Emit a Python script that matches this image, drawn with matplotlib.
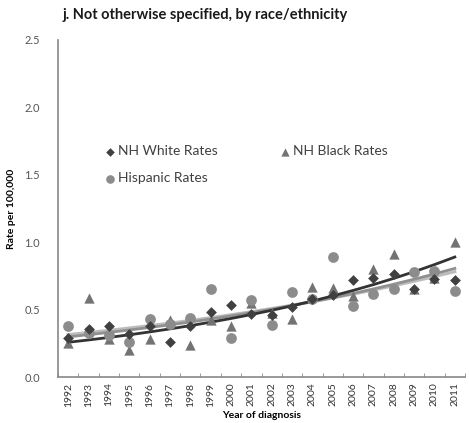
import numpy as np
import matplotlib
matplotlib.use("Agg")
import matplotlib.pyplot as plt

years = list(range(1992, 2012))
white = [0.29, 0.356, 0.375, 0.32, 0.38, 0.256, 0.38, 0.48, 0.537, 0.468,
         0.46, 0.517, 0.58, 0.607, 0.716, 0.736, 0.766, 0.65, 0.73, 0.716]
black = [0.25, 0.587, 0.28, 0.20, 0.28, 0.425, 0.24, 0.425, 0.38, 0.55,
         0.475, 0.433, 0.667, 0.66, 0.604, 0.80, 0.915, 0.65, 0.736, 0.998]
hisp = [0.375, 0.326, 0.31, 0.26, 0.43, 0.395, 0.438, 0.65, 0.29, 0.57,
        0.383, 0.63, 0.58, 0.89, 0.525, 0.617, 0.65, 0.778, 0.79, 0.637]

plt.rcParams['font.family'] = ['Lato', 'DejaVu Sans']

fig = plt.figure(figsize=(4.69, 4.23), dpi=100)
ax = fig.add_axes([58/469, 1-377/423, (465-58)/469, (377-40)/423])

x = np.arange(len(years))

def expfit(vals):
    b, a = np.polyfit(x, np.log(vals), 1)
    return np.exp(a + b * x)

c_white, c_black, c_hisp = '#404040', '#737373', '#8c8c8c'
ax.plot(x, expfit(hisp), color='#bcbcbc', lw=2.2, zorder=2)
ax.plot(x, expfit(white), color='#909090', lw=2.0, zorder=2)
ax.plot(x, expfit(black), color='#333333', lw=2.0, zorder=3)

h_w = ax.scatter(x, white, marker='D', s=30, color=c_white, zorder=5, label='NH White Rates', linewidths=0)
h_b = ax.scatter(x, black, marker='^', s=55, color=c_black, zorder=4, label='NH Black Rates', linewidths=0)
h_h = ax.scatter(x, hisp, marker='o', s=60, color=c_hisp, zorder=4, label='Hispanic Rates', linewidths=0)

ax.set_xlim(-0.5, len(years) - 0.5)
ax.set_ylim(0, 2.5)
ax.set_yticks(np.arange(0, 2.51, 0.5))
ax.set_yticklabels([f'{v:.1f}' for v in np.arange(0, 2.51, 0.5)], fontsize=8, color='#555555')
ax.set_xticks(x)
ax.set_xticklabels([str(y) for y in years], rotation=90, fontsize=7.5, color='#333333')
ax.set_xticks(np.arange(-0.5, len(years), 1), minor=True)
ax.tick_params(axis='x', which='major', length=0, pad=4)
ax.tick_params(axis='x', which='minor', direction='in', length=3, color='#888888')
ax.tick_params(axis='y', length=0, pad=13)

for s in ['top', 'right']:
    ax.spines[s].set_visible(False)
for s in ['left', 'bottom']:
    ax.spines[s].set_color('#888888')
    ax.spines[s].set_linewidth(1.2)

ax.set_ylabel('Rate per 100,000', fontsize=7.5, fontweight='bold', labelpad=6)
ax.set_xlabel('Year of diagnosis', fontsize=7.5, fontweight='bold', labelpad=3)
fig.text(62/469, 1-15/423, 'j. Not otherwise specified, by race/ethnicity',
         fontsize=10.5, fontweight='bold', va='center', ha='left', color='#1a1a1a')

leg = ax.legend(handles=[h_w, h_h, h_b], ncol=2, frameon=False, loc='upper left',
                bbox_to_anchor=(0.08, 0.725), fontsize=10, handletextpad=0.1,
                columnspacing=4.3, markerscale=0.8, labelspacing=1.1, handlelength=1.0)
for t in leg.get_texts():
    t.set_color('#404040')

fig.savefig('out.png', dpi=100)
